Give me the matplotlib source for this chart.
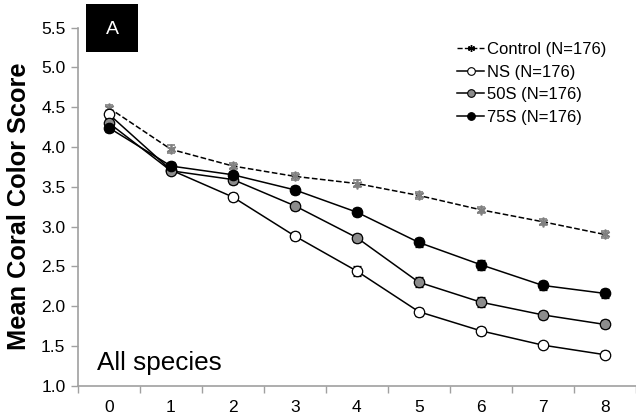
import matplotlib
matplotlib.use("Agg")
import matplotlib.pyplot as plt
from matplotlib.patches import Rectangle
from matplotlib.lines import Line2D

plt.rcParams['font.family'] = ['Liberation Sans', 'DejaVu Sans']

days = [0, 1, 2, 3, 4, 5, 6, 7, 8]
control = [4.49, 3.97, 3.76, 3.63, 3.54, 3.39, 3.21, 3.06, 2.90]
ns = [4.41, 3.71, 3.37, 2.88, 2.44, 1.93, 1.69, 1.51, 1.39]
s50 = [4.30, 3.70, 3.59, 3.26, 2.86, 2.30, 2.05, 1.89, 1.77]
s75 = [4.24, 3.76, 3.65, 3.46, 3.18, 2.80, 2.52, 2.26, 2.16]
err_control = [0.04, 0.05, 0.04, 0.04, 0.04, 0.04, 0.04, 0.04, 0.04]
err_ns = [0.05, 0.04, 0.05, 0.05, 0.06, 0.05, 0.05, 0.04, 0.04]
err_50 = [0.05, 0.04, 0.05, 0.05, 0.05, 0.06, 0.06, 0.05, 0.05]
err_75 = [0.05, 0.05, 0.05, 0.05, 0.05, 0.06, 0.06, 0.06, 0.06]
labels = ['Control (N=176)', 'NS (N=176)', '50S (N=176)', '75S (N=176)']

fig = plt.figure(figsize=(6.36, 4.17), dpi=100)
ax = fig.add_axes([0.1226, 0.075, 0.877, 0.859])

ctrl_marker = (6, 2, 0)
ax.errorbar(days, control, yerr=err_control, color='black', ls='--', lw=1.1,
            marker=ctrl_marker, ms=7, mec='#808080', mew=1.2,
            ecolor='#808080', elinewidth=1, capsize=3, zorder=3)
fills = ['white', '#8c8c8c', 'black']
for vals, errs, fc in zip([ns, s50, s75], [err_ns, err_50, err_75], fills):
    ax.errorbar(days, vals, yerr=errs, color='black', lw=1.1, marker='o', ms=7.5,
                mfc=fc, mec='black', mew=0.9, ecolor='black', elinewidth=1, capsize=3,
                zorder=3)

ax.set_xlim(-0.5, 8.5)
ax.set_ylim(1.0, 5.5)
ax.set_yticks([1.0, 1.5, 2.0, 2.5, 3.0, 3.5, 4.0, 4.5, 5.0, 5.5])
ax.set_yticklabels([f'{v:.1f}' for v in ax.get_yticks()])
ax.set_xticks(days)
ax.set_xticks([d - 0.5 for d in days] + [8.5], minor=True)
ax.tick_params(axis='x', which='major', length=0, pad=10, labelsize=12.5)
ax.tick_params(axis='x', which='minor', length=5, color='#a0a0a0', width=1)
ax.tick_params(axis='y', length=5, color='#a0a0a0', width=1, labelsize=12.5, pad=4)

for side in ['top', 'right']:
    ax.spines[side].set_visible(False)
for side in ['left', 'bottom']:
    ax.spines[side].set_color('#a0a0a0')
    ax.spines[side].set_linewidth(1.2)

ax.set_ylabel('Mean Coral Color Score', fontsize=18.3, fontweight='bold', labelpad=7)

ax.text(0.034, 0.045, 'All species', transform=ax.transAxes, fontsize=18.8)

box = Rectangle((86 / 636, 1 - 52 / 417), 52 / 636, 48 / 417, transform=fig.transFigure,
                facecolor='black', edgecolor='none')
fig.patches.append(box)
fig.text(112 / 636, 1 - 29 / 417, 'A', color='white', fontsize=14, ha='center', va='center')

handles = [Line2D([], [], color='black', ls='--', lw=1, marker=ctrl_marker, ms=5, mec='black', mew=1)]
for fc in fills:
    handles.append(Line2D([], [], color='black', lw=1.1, marker='o', ms=5.5, mfc=fc, mec='black', mew=0.8))
ax.legend(handles, labels, loc='upper left', bbox_to_anchor=(0.668, 0.978), frameon=False,
          fontsize=12, handlelength=1.6, handletextpad=0.2, labelspacing=0.45,
          borderaxespad=0)

fig.savefig('out.png', dpi=100)
